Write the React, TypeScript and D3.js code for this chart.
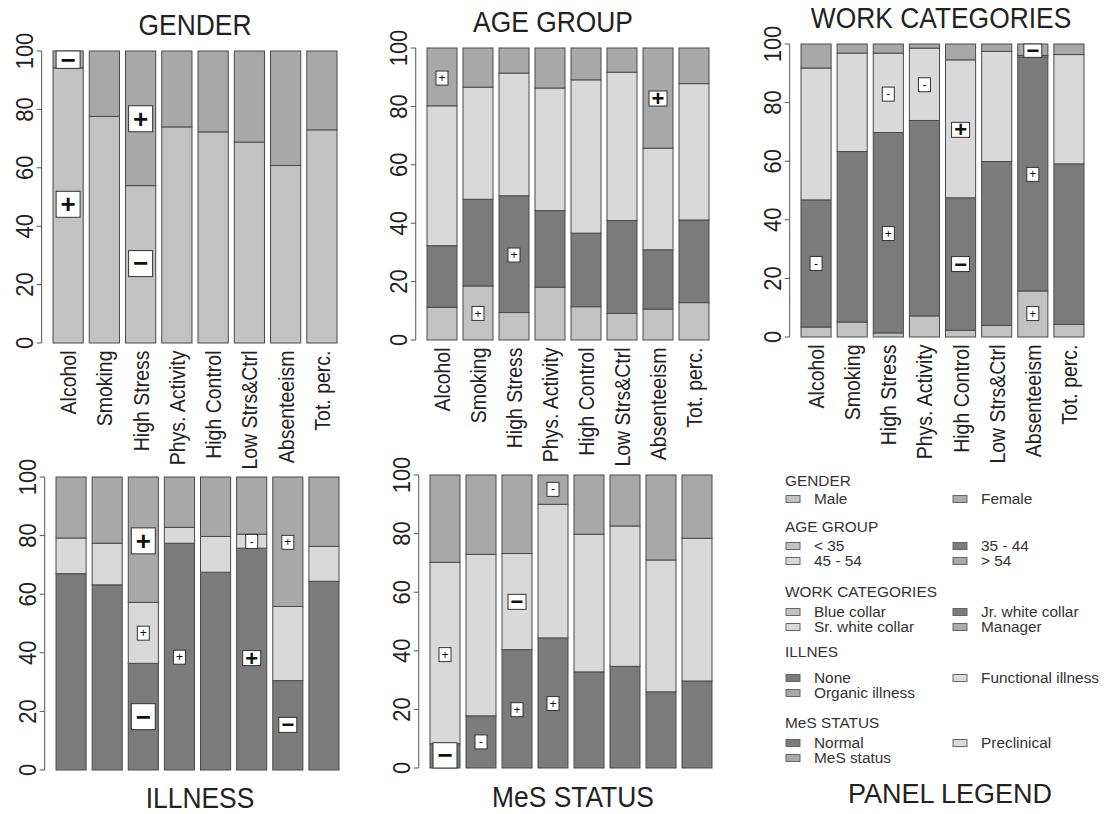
import React from "react";
import * as d3 from "d3";

const categories = ["Alcohol", "Smoking", "High Stress", "Phys. Activity", "High Control", "Low Strs&Ctrl", "Absenteeism", "Tot. perc."];
const yTicks = [0, 20, 40, 60, 80, 100];

// GENDER
const genderMale = [94.2, 77.6, 53.9, 74.0, 72.3, 68.8, 60.8, 73.0];
const genderFemale = [5.8, 22.4, 46.1, 26.0, 27.7, 31.2, 39.2, 27.0];
// AGE GROUP
const ageLt35 = [11.2, 18.5, 9.4, 18.1, 11.4, 9.1, 10.6, 12.8];
const age35to44 = [21.1, 29.7, 40.0, 26.2, 25.2, 31.8, 20.3, 28.3];
const age45to54 = [47.9, 38.4, 42.0, 42.0, 52.5, 50.8, 34.8, 46.7];
const ageGt54 = [19.8, 13.4, 8.6, 13.7, 10.9, 8.3, 34.3, 12.2];
// WORK CATEGORIES
const workBlue = [3.4, 5.1, 1.4, 7.2, 2.3, 4.0, 15.7, 4.3];
const workJrWhite = [43.4, 58.2, 68.4, 66.7, 45.2, 55.9, 79.9, 54.8];
const workSrWhite = [45.0, 33.6, 27.1, 24.7, 47.1, 37.6, 0.5, 37.3];
const workManager = [8.2, 3.1, 3.1, 1.4, 5.4, 2.5, 3.9, 3.6];
// ILLNESS
const illNone = [67.0, 63.2, 36.4, 77.4, 67.5, 75.7, 30.5, 64.4];
const illFunctional = [12.2, 14.2, 20.8, 5.4, 12.2, 4.8, 25.3, 11.9];
const illOrganic = [20.8, 22.6, 42.8, 17.2, 20.3, 19.5, 44.2, 23.7];
// MeS STATUS
const mesNormal = [8.3, 17.8, 40.4, 44.4, 32.8, 34.7, 26.0, 29.7];
const mesPreclinical = [61.9, 55.1, 32.8, 45.6, 47.0, 47.9, 45.0, 48.7];
const mesStatus = [29.8, 27.1, 26.8, 10.0, 20.2, 17.4, 29.0, 21.6];

// significance badges: [bar index, value, sign, size]
type Badge = [number, number, string, "L" | "M" | "S"];
const genderBadges: Badge[] = [[0, 98.5, "−", "L"], [0, 47.5, "+", "L"], [2, 76.8, "+", "L"], [2, 27.2, "−", "L"]];
const ageBadges: Badge[] = [[0, 89.7, "+", "S"], [1, 9.1, "+", "S"], [2, 29.1, "+", "S"], [6, 82.7, "+", "M"]];
const workBadges: Badge[] = [[0, 25.1, "-", "S"], [2, 82.9, "-", "S"], [2, 35.3, "+", "S"], [3, 86.1, "-", "S"], [4, 70.7, "+", "M"], [4, 24.9, "−", "M"], [6, 98.0, "−", "M"], [6, 55.5, "+", "S"], [6, 8.0, "+", "S"]];
const illBadges: Badge[] = [[2, 78.2, "+", "L"], [2, 46.7, "+", "S"], [2, 18.2, "−", "L"], [3, 38.5, "+", "S"], [5, 78.0, "-", "S"], [5, 38.2, "+", "M"], [6, 77.7, "+", "S"], [6, 15.4, "−", "M"]];
const mesBadges: Badge[] = [[0, 38.7, "+", "S"], [0, 4.2, "−", "L"], [1, 8.9, "-", "S"], [2, 56.7, "−", "M"], [2, 19.9, "+", "S"], [3, 95.1, "-", "S"], [3, 22.0, "+", "S"]];

const C = { light: "#c2c2c2", med: "#a8a8a8", dark: "#7b7b7b", lightest: "#d9d9d9" };
const FONT = "'Liberation Sans', Arial, Helvetica, sans-serif";

type Series = { name: string; values: number[]; color: string };
type Panel = {
  title: string;
  series: Series[];
  badges: Badge[];
  frame: { x0: number; x1: number; yTop: number; yBottom: number };
  titleX: number;
  titleY: number;
  showLabels: boolean;
};

const panels: Panel[] = [
  {
    title: "GENDER",
    series: [
      { name: "Male", values: genderMale, color: C.light },
      { name: "Female", values: genderFemale, color: C.med },
    ],
    badges: genderBadges,
    frame: { x0: 53, x1: 337, yTop: 51, yBottom: 343 },
    titleX: 195, titleY: 35, showLabels: true,
  },
  {
    title: "AGE GROUP",
    series: [
      { name: "< 35", values: ageLt35, color: C.light },
      { name: "35 - 44", values: age35to44, color: C.dark },
      { name: "45 - 54", values: age45to54, color: C.lightest },
      { name: "> 54", values: ageGt54, color: C.med },
    ],
    badges: ageBadges,
    frame: { x0: 427, x1: 709, yTop: 48, yBottom: 340 },
    titleX: 553, titleY: 32, showLabels: true,
  },
  {
    title: "WORK CATEGORIES",
    series: [
      { name: "Blue collar", values: workBlue, color: C.light },
      { name: "Jr. white collar", values: workJrWhite, color: C.dark },
      { name: "Sr. white collar", values: workSrWhite, color: C.lightest },
      { name: "Manager", values: workManager, color: C.med },
    ],
    badges: workBadges,
    frame: { x0: 801, x1: 1084, yTop: 44, yBottom: 337 },
    titleX: 941, titleY: 28, showLabels: true,
  },
  {
    title: "ILLNESS",
    series: [
      { name: "None", values: illNone, color: C.dark },
      { name: "Functional illness", values: illFunctional, color: C.lightest },
      { name: "Organic illness", values: illOrganic, color: C.med },
    ],
    badges: illBadges,
    frame: { x0: 56, x1: 339, yTop: 477, yBottom: 770 },
    titleX: 200, titleY: 808, showLabels: false,
  },
  {
    title: "MeS STATUS",
    series: [
      { name: "Normal", values: mesNormal, color: C.dark },
      { name: "Preclinical", values: mesPreclinical, color: C.lightest },
      { name: "MeS status", values: mesStatus, color: C.med },
    ],
    badges: mesBadges,
    frame: { x0: 430, x1: 712, yTop: 475, yBottom: 768 },
    titleX: 573, titleY: 807, showLabels: false,
  },
];

// legend content
const legendGroups = [
  { title: "GENDER", col1: [["Male", C.light]], col2: [["Female", C.med]] },
  { title: "AGE GROUP", col1: [["< 35", C.light], ["45 - 54", C.lightest]], col2: [["35 - 44", C.dark], ["> 54", C.med]] },
  { title: "WORK CATEGORIES", col1: [["Blue collar", C.light], ["Sr. white collar", C.lightest]], col2: [["Jr. white collar", C.dark], ["Manager", C.med]] },
  { title: "ILLNES", col1: [["None", C.dark], ["Organic illness", C.med]], col2: [["Functional illness", C.lightest]] },
  { title: "MeS STATUS", col1: [["Normal", C.dark], ["MeS status", C.med]], col2: [["Preclinical", C.lightest]] },
];
const legendHeaderY = [486, 532, 597, 657, 728];
const legendFirstRowY = [504, 551, 617, 683, 748];

const badgeSizes = {
  L: { w: 24, h: 26, fs: 26, fw: 700 },
  M: { w: 18, h: 15, fs: 22, fw: 700 },
  S: { w: 12, h: 14, fs: 12, fw: 400 },
};

const STRETCH = 1.12;

function PanelChart({ p }: { p: Panel }) {
  const { x0, x1, yTop, yBottom } = p.frame;
  const x = d3.scaleLinear().domain([0.2, 9.6]).range([x0, x1]);
  const y = d3.scaleLinear().domain([0, 100]).range([yBottom, yTop]);
  const axisX = x(0.2 - 0.04 * 9.4);
  const keys = p.series.map((s) => s.name);
  const rows = categories.map((c, i) => {
    const r: any = { cat: c };
    p.series.forEach((s) => (r[s.name] = s.values[i]));
    return r;
  });
  const stacked = d3.stack().keys(keys)(rows);
  const barL = (i: number) => x(0.2 + 1.2 * i);
  const barR = (i: number) => x(1.2 + 1.2 * i);
  const barC = (i: number) => (barL(i) + barR(i)) / 2;

  return (
    <g>
      {stacked.map((layer, li) => (
        <g key={li} fill={p.series[li].color}>
          {layer.map((d, i) => (
            <rect
              key={i}
              x={barL(i)}
              y={y(d[1])}
              width={barR(i) - barL(i)}
              height={Math.max(0, y(d[0]) - y(d[1]))}
              stroke="#4a4a4a"
              strokeWidth={1}
            />
          ))}
        </g>
      ))}
      {p.badges.map(([bi, v, sign, sz], k) => {
        const s = badgeSizes[sz];
        const cy = y(v);
        const top = Math.max(cy - s.h / 2, yTop);
        const bot = Math.min(cy + s.h / 2, yBottom);
        const vc = (top + bot) / 2;
        const cx = barC(bi);
        return (
          <g key={k}>
            <rect x={cx - s.w / 2} y={top} width={s.w} height={bot - top} fill="#ffffff" stroke="#333" strokeWidth={1} />
            <text x={cx} y={vc + 0.34 * s.fs} textAnchor="middle" fontSize={s.fs} fontWeight={s.fw} fontFamily={FONT} fill="#111">
              {sign}
            </text>
          </g>
        );
      })}
      {/* y axis */}
      <line x1={axisX} x2={axisX} y1={y(0)} y2={y(100)} stroke="#555" strokeWidth={1} />
      {yTicks.map((t) => (
        <g key={t}>
          <line x1={axisX - 5} x2={axisX} y1={y(t)} y2={y(t)} stroke="#555" strokeWidth={1} />
          <text
            transform={`translate(${axisX - 9},${y(t)}) rotate(-90) scale(1,${STRETCH})`}
            textAnchor="middle"
            fontSize={22}
            fontFamily={FONT}
            fill="#222"
          >
            {t}
          </text>
        </g>
      ))}
      {p.showLabels &&
        categories.map((c, i) => (
          <text
            key={c}
            transform={`translate(${barC(i) + 8},${yBottom + 7.5}) rotate(-90) scale(1,${STRETCH})`}
            textAnchor="end"
            fontSize={19.5}
            fontFamily={FONT}
            fill="#222"
          >
            {c}
          </text>
        ))}
      <text
        transform={`translate(${p.titleX},${p.titleY}) scale(1,${STRETCH})`}
        textAnchor="middle"
        fontSize={26.4}
        fontFamily={FONT}
        fill="#222"
      >
        {p.title}
      </text>
    </g>
  );
}

function Legend() {
  const col1X = 786;
  const col2X = 953;
  const sw = 14;
  const sh = 7;
  const textOff = 28;
  const fs = 15.4;
  return (
    <g fontFamily={FONT} fill="#333">
      {legendGroups.map((g, gi) => (
        <g key={g.title}>
          <text x={785} y={legendHeaderY[gi]} fontSize={fs}>
            {g.title}
          </text>
          {[g.col1, g.col2].map((col, ci) =>
            col.map(([label, color], ri) => {
              const bx = ci === 0 ? col1X : col2X;
              const by = legendFirstRowY[gi] + ri * 15;
              return (
                <g key={label}>
                  <rect x={bx} y={by - 8.5} width={sw} height={sh} fill={color} stroke="#666" strokeWidth={1} />
                  <text x={bx + textOff} y={by} fontSize={fs} textLength={undefined}>
                    {label}
                  </text>
                </g>
              );
            })
          )}
        </g>
      ))}
      <text x={950} y={803} textAnchor="middle" fontSize={27} fill="#222">
        PANEL LEGEND
      </text>
    </g>
  );
}

export default function App() {
  return (
    <svg
      width={1105}
      height={814}
      style={{ position: "absolute", left: 0, top: 0, background: "#fff" }}
      xmlns="http://www.w3.org/2000/svg"
    >
      <rect x={0} y={0} width={1105} height={814} fill="#fff" />
      {panels.map((p) => (
        <PanelChart key={p.title} p={p} />
      ))}
      <Legend />
    </svg>
  );
}
